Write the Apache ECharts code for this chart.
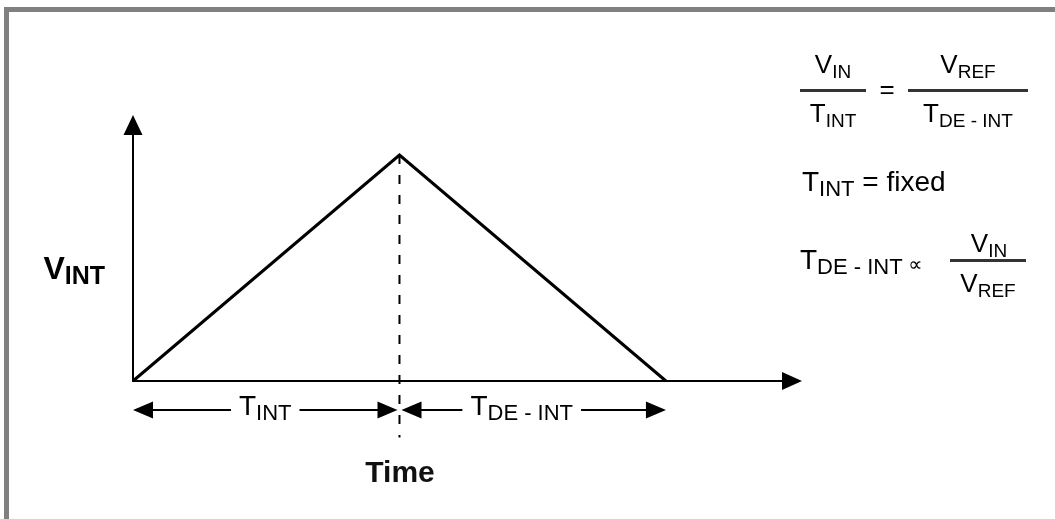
<!DOCTYPE html>
<html><head><meta charset="utf-8">
<script src="https://cdn.jsdelivr.net/npm/echarts@6/dist/echarts.min.js"></script>
<style>html,body{margin:0;padding:0;background:#fff}#c{width:1055px;height:519px}</style>
</head><body><div id="c"></div>
<script>
// ---- data (time in integration periods, voltage normalised to peak) ----
const rampX = [0, 1, 2];            // start, end of integration, end of de-integration
const rampY = [0, 1, 0];            // V_INT
const dashX = [1, 1];
const dashY = [1, -0.25];
const dimStart = [0, 1];
const dimEnd = [1, 2];
const dimMain = ['T', 'T'];
const dimSub = ['INT', 'DE - INT'];
const dimLevel = -0.128;
const xMax = 2.473;
const yMax = 1.1327;

// ---- layout / style constants ----
const F = '"Liberation Sans", Arial, Helvetica, "DejaVu Sans", sans-serif';
const TXT = '#111';
const DIM_INSET = [[0, 2], [2, 0]];
const DIM_SHIFT = [0, -12];

function rich(main, sub, shift, weight) {
  return {
    m: {fontSize: main, fontFamily: F, color: TXT, fontWeight: weight || 'normal'},
    s: {fontSize: sub, fontFamily: F, color: TXT, fontWeight: weight || 'normal', padding: [shift, 0, 0, 0]},
    p: {fontSize: 20, fontFamily: F, color: TXT, padding: [8, 0, 0, 0]}
  };
}
const fracRich = rich(26, 19, 13);
const rowRich = rich(28, 22, 14);

function txt(x, y, text, r, align) {
  return {type: 'text', x: x, y: y, z: 10, silent: true,
    style: {text: text, rich: r, align: align || 'center', verticalAlign: 'middle'}};
}
function bar(x, y, w) {
  return {type: 'rect', z: 10, silent: true, shape: {x: x, y: y, width: w, height: 3}, style: {fill: '#333'}};
}

function renderDim(params, api) {
  const i = params.dataIndex;
  const a = api.coord([api.value(0), dimLevel]);
  const b = api.coord([api.value(1), dimLevel]);
  const x0 = a[0] + DIM_INSET[i][0], x1 = b[0] - DIM_INSET[i][1], y = Math.round(a[1]);
  const L = 20, H = 8.5;
  const cx = (x0 + x1) / 2 + DIM_SHIFT[i];
  return {type: 'group', children: [
    {type: 'line', shape: {x1: x0 + L - 2, y1: y, x2: x1 - L + 2, y2: y}, style: {stroke: '#000', lineWidth: 2}},
    {type: 'polygon', shape: {points: [[x0, y], [x0 + L, y - H], [x0 + L, y + H]]}, style: {fill: '#000'}},
    {type: 'polygon', shape: {points: [[x1, y], [x1 - L, y - H], [x1 - L, y + H]]}, style: {fill: '#000'}},
    {type: 'text', x: cx, y: y - 3, z2: 5, style: {
      text: '{m|' + dimMain[i] + '}{s|' + dimSub[i] + '}', rich: rowRich,
      align: 'center', verticalAlign: 'middle', backgroundColor: '#fff', padding: [0, 8]}}
  ]};
}

const chart = echarts.init(document.getElementById('c'), null, {renderer: 'canvas'});
chart.setOption({
  animation: false,
  backgroundColor: '#fff',
  grid: {left: 133, right: 263, top: 125, bottom: 138},
  xAxis: {type: 'value', min: 0, max: xMax, silent: true,
    axisLine: {show: true, symbol: ['none', 'triangle'], symbolSize: [18, 20], lineStyle: {color: '#000', width: 2}},
    axisTick: {show: false}, axisLabel: {show: false}, splitLine: {show: false}},
  yAxis: {type: 'value', min: 0, max: yMax, silent: true,
    axisLine: {show: true, symbol: ['none', 'triangle'], symbolSize: [19, 20], lineStyle: {color: '#000', width: 2}},
    axisTick: {show: false}, axisLabel: {show: false}, splitLine: {show: false}},
  series: [
    {type: 'line', data: rampX.map((x, i) => [x, rampY[i]]), symbol: 'none', clip: false, silent: true, z: 4,
      lineStyle: {color: '#000', width: 3, join: 'miter'}},
    {type: 'line', data: dashX.map((x, i) => [x, dashY[i]]), symbol: 'none', clip: false, silent: true, z: 3,
      lineStyle: {color: '#000', width: 2, type: [9, 11]}},
    {type: 'custom', data: dimStart.map((s, i) => [s, dimEnd[i]]), renderItem: renderDim, clip: false, silent: true, z: 5}
  ],
  graphic: {elements: [
    {type: 'rect', silent: true, shape: {x: 6.5, y: 9.5, width: 1200, height: 800}, style: {fill: 'none', stroke: '#808080', lineWidth: 5}},
    // V_INT label and Time label
    txt(105, 270, '{m|V}{s|INT}', rich(32, 25, 14, 'bold'), 'right'),
    {type: 'text', x: 400, y: 474, silent: true, style: {text: 'Time', fontSize: 30, fontWeight: 'bold', fontFamily: F, fill: TXT, align: 'center', verticalAlign: 'middle'}},
    // V_IN / T_INT = V_REF / T_DE-INT
    txt(833, 66, '{m|V}{s|IN}', fracRich),
    bar(800, 89, 66),
    txt(833, 115, '{m|T}{s|INT}', fracRich),
    txt(887, 91, '{m|=}', fracRich),
    txt(968, 66, '{m|V}{s|REF}', fracRich),
    bar(908, 89, 120),
    txt(968, 115, '{m|T}{s|DE - INT}', fracRich),
    // T_INT = fixed
    txt(802, 183, '{m|T}{s|INT}{m| = fixed}', rowRich, 'left'),
    // T_DE-INT ∝ V_IN / V_REF
    txt(800, 261, '{m|T}{s|DE - INT}{p| ∝}', rowRich, 'left'),
    bar(950, 259, 76),
    txt(989, 245, '{m|V}{s|IN}', fracRich),
    txt(988, 285, '{m|V}{s|REF}', fracRich)
  ]}
});
</script></body></html>
